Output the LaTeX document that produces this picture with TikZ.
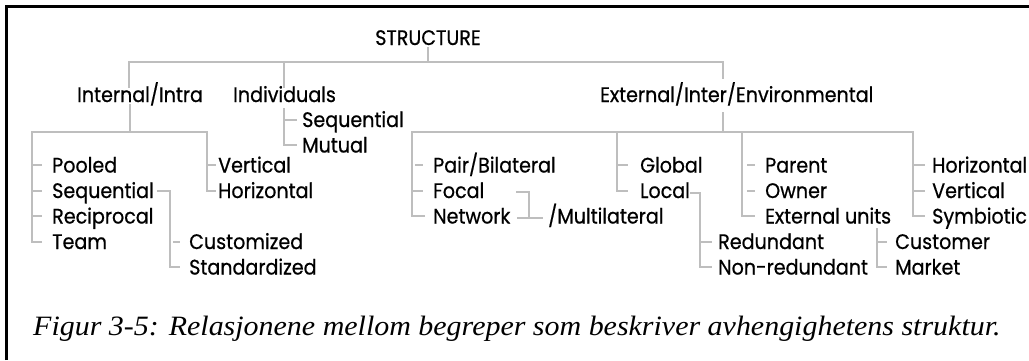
\documentclass[tikz,border=0pt]{standalone}
\usepackage{fontspec}
\setmainfont{Poppins}[FakeStretch=0.91,FakeBold=0.6]
\newfontfamily\capfont{Liberation Serif}[FakeStretch=1.07]
\usetikzlibrary{calc}
\definecolor{linegray}{RGB}{190,190,190}
\begin{document}
\begin{tikzpicture}[x=1pt,y=-1pt,
  conn/.style={draw=linegray,line width=2pt},
  lbl/.style={anchor=west,inner sep=0pt,text height=15pt,text depth=0pt,
    font=\fontsize{21}{24}\selectfont},
  frame/.style={draw=black,line width=3pt}]
\useasboundingbox (0,0) rectangle (1029,360);

% frame (left and top edges)
\coordinate (bl) at (6.5,360);
\coordinate (tl) at (6.5,6.5);
\coordinate (tr) at (1029,6.5);
\draw[frame] (bl) -- (tl) -- (tr);

% labels: west anchor sits at the middle of the capitals
\node[lbl,anchor=center] (top) at (428,37.5) {STRUCTURE};
\node[lbl] (intra) at (77,94.5) {Internal/Intra};
\node[lbl] (indiv) at (233,94.5) {Individuals};
\node[lbl] (ext) at (600,94.5) {External/Inter/Environmental};

\node[lbl] (iseq) at (302,119.5) {Sequential};
\node[lbl] (imut) at (302,145) {Mutual};

\node[lbl] (pooled) at (52,165) {Pooled};
\node[lbl] (seqA) at (52,190.5) {Sequential};
\node[lbl] (recip) at (52,216) {Reciprocal};
\node[lbl] (team) at (52,241.5) {Team};
\node[lbl] (custom) at (189,241.5) {Customized};
\node[lbl] (stand) at (189,267) {Standardized};
\node[lbl] (vert1) at (218,165) {Vertical};
\node[lbl] (horiz1) at (218,190.5) {Horizontal};

\node[lbl] (pair) at (433,165) {Pair/Bilateral};
\node[lbl] (focal) at (433,190.5) {Focal};
\node[lbl] (network) at (433,216) {Network};
\node[lbl] (multi) at (548,216) {/Multilateral};
\node[lbl] (global) at (640,165) {Global};
\node[lbl] (local) at (640,190.5) {Local};
\node[lbl] (redund) at (718,241.5) {Redundant};
\node[lbl] (nonred) at (718,267) {Non-redundant};
\node[lbl] (parent) at (765,165) {Parent};
\node[lbl] (owner) at (765,190.5) {Owner};
\node[lbl] (extu) at (765,216) {External units};
\node[lbl] (cust) at (895,241.5) {Customer};
\node[lbl] (market) at (895,267) {Market};
\node[lbl] (horiz2) at (932,165) {Horizontal};
\node[lbl] (vert2) at (932,190.5) {Vertical};
\node[lbl] (symb) at (932,216) {Symbiotic};

% top level
\coordinate (bar) at (428,62);
\coordinate (d1) at (129,88);
\coordinate (d2) at (284,88);
\coordinate (d3) at (723,79);
\draw[conn] ($(top.south)+(0,2)$) -- (bar);
\draw[conn] (d1) -- (d1 |- bar) -- (d3 |- bar) -- (d3);
\draw[conn] (d2) -- (d2 |- bar);

% Internal/Intra
\coordinate (i0) at (130,104);
\coordinate (ibar) at (130,132);
\coordinate (iL) at (32,132);
\coordinate (iR) at (207,132);
\draw[conn] (i0) -- (ibar);
\draw[conn] ($(team.west)+(-10,0)$) -- (iL |- team.west) -- (iL) -- (iR)
  -- (iR |- horiz1.west) -- ($(horiz1.west)+(-2,0)$);
\foreach \n in {pooled,seqA,recip}
  \draw[conn] (iL |- \n.west) -- ($(\n.west)+(-10,0)$);
\draw[conn] (iR |- vert1.west) -- ($(vert1.west)+(-2,0)$);

% Sequential -> Customized / Standardized
\coordinate (s0) at (157,190.5);
\coordinate (s1) at (170,190.5);
\draw[conn] (s0) -- (s1) -- (s1 |- stand.west) -- ($(stand.west)+(-9,0)$);
\draw[conn] ($(s1 |- custom.west)+(3,0)$) -- ($(custom.west)+(-9,0)$);

% Individuals
\coordinate (n0) at (284,108);
\draw[conn] (n0) |- ($(imut.west)+(-5,0)$);
\draw[conn] (n0 |- iseq.west) -- ($(iseq.west)+(-5,0)$);

% External/Inter/Environmental
\coordinate (e0) at (723,112);
\coordinate (ebar) at (723,132);
\coordinate (g1) at (412,132);
\coordinate (g2) at (617,132);
\coordinate (g3) at (742,132);
\coordinate (g4) at (913,132);
\draw[conn] (e0) -- (ebar);
\draw[conn] ($(network.west)+(-8,0)$) -- (g1 |- network.west) -- (g1) -- (g4)
  -- (g4 |- symb.west) -- ($(symb.west)+(-7,0)$);
\draw[conn] (g2) |- ($(local.west)+(-12,0)$);
\draw[conn] (g3) |- ($(extu.west)+(-10,0)$);
\draw[conn] ($(g1 |- pair.west)+(3,0)$) -- ($(pair.west)+(-10,0)$);
\draw[conn] (g1 |- focal.west) -- ($(focal.west)+(-10,0)$);
\draw[conn] (g2 |- global.west) -- ($(global.west)+(-12,0)$);
\foreach \n in {parent,owner}
  \draw[conn] ($(g3 |- \n.west)+(5,0)$) -- ($(\n.west)+(-10,0)$);
\foreach \n in {horiz2,vert2}
  \draw[conn] (g4 |- \n.west) -- ($(\n.west)+(-7,0)$);

% Focal / Network -> /Multilateral
\coordinate (m1) at (516,192);
\coordinate (m2) at (529,192);
\coordinate (m3) at (529,218);
\coordinate (m4) at (517,218);
\coordinate (m5) at (543,218);
\draw[conn] (m1) -- (m2) -- (m3);
\draw[conn] (m4) -- (m5);

% Local -> Redundant / Non-redundant
\coordinate (l0) at (690,193);
\coordinate (l1) at (700,193);
\draw[conn] (l0) -- (l1) -- (l1 |- nonred.west) -- ($(nonred.west)+(-6,0)$);
\draw[conn] (l1 |- redund.west) -- ($(redund.west)+(-6,0)$);

% External units -> Customer / Market
\coordinate (c0) at (877,228);
\draw[conn] (c0) |- ($(market.west)+(-8,0)$);
\draw[conn] (c0 |- cust.west) -- ($(cust.west)+(-8,0)$);

% caption
\node[anchor=base west,inner sep=0pt,
  font=\capfont\itshape\fontsize{28}{32}\selectfont] (cap) at (33,335)
  {Figur 3-5: Relasjonene mellom begreper som beskriver avhengighetens struktur.};
\end{tikzpicture}
\end{document}
